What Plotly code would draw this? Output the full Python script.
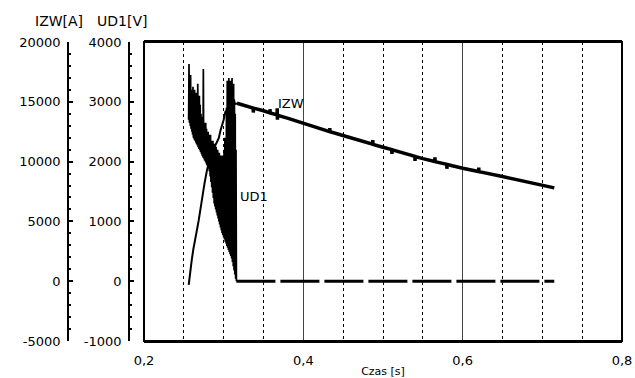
import plotly.graph_objects as go

# ---- data ----
x_tick_vals = [0.2, 0.4, 0.6, 0.8]
izw_tick_vals = [-5000, 0, 5000, 10000, 15000, 20000]
izw_tick_text = ["-5000", "0", "5000", "10000", "15000", "20000"]
ud1_tick_vals = [-1000, 0, 1000, 2000, 3000, 4000]
ud1_tick_text = ["-1000", "0", "1000", "2000", "3000", "4000"]

ud1_t = [0.2560, 0.2565, 0.2570, 0.2575, 0.2580, 0.2585, 0.2590, 0.2595, 0.2600, 0.2605,
         0.2610, 0.2615, 0.2620, 0.2625, 0.2630, 0.2635, 0.2640, 0.2645, 0.2650, 0.2655,
         0.2660, 0.2665, 0.2670, 0.2675, 0.2680, 0.2685, 0.2690, 0.2695, 0.2700, 0.2705,
         0.2710, 0.2715, 0.2720, 0.2725, 0.2730, 0.2735, 0.2740, 0.2745, 0.2750, 0.2755,
         0.2760, 0.2765, 0.2770, 0.2775, 0.2780, 0.2785, 0.2790, 0.2795, 0.2800, 0.2805,
         0.2810, 0.2815, 0.2820, 0.2825, 0.2830, 0.2835, 0.2840, 0.2845, 0.2850, 0.2855,
         0.2860, 0.2865, 0.2870, 0.2875, 0.2880, 0.2885, 0.2890, 0.2895, 0.2900, 0.2905,
         0.2910, 0.2915, 0.2920, 0.2925, 0.2930, 0.2935, 0.2940, 0.2945, 0.2950, 0.2955,
         0.2960, 0.2965, 0.2970, 0.2975, 0.2980, 0.2985, 0.2990, 0.2995, 0.3000, 0.3005,
         0.3010, 0.3015, 0.3020, 0.3025, 0.3030, 0.3035, 0.3040, 0.3045, 0.3050, 0.3055,
         0.3060, 0.3065, 0.3070, 0.3075, 0.3080, 0.3085, 0.3090, 0.3095, 0.3100, 0.3105,
         0.3110, 0.3115, 0.3120, 0.3125, 0.3130, 0.3135, 0.3140, 0.3145, 0.3150, 0.3155,
         0.3160]
ud1_v = [2700, 3630, 2650, 3150, 2600, 3450, 2550, 3200, 2500, 3150,
         2450, 3250, 2400, 3100, 2370, 3200, 2350, 3050, 2320, 3150,
         2290, 3000, 2270, 3300, 2240, 3000, 2210, 3100, 2190, 2950,
         2160, 2800, 2130, 2750, 2100, 2700, 2070, 3550, 2050, 2650,
         2020, 2600, 2000, 2650, 1970, 2550, 1940, 2500, 1910, 2500,
         1880, 2450, 1840, 2400, 1750, 2450, 1660, 2350, 1570, 2300,
         1480, 2350, 1390, 2250, 1300, 2300, 1250, 2200, 1200, 2250,
         1150, 2150, 1100, 2200, 1050, 2100, 1000, 2150, 950, 2050,
         900, 2100, 850, 2000, 800, 2100, 770, 2050, 730, 2200,
         700, 2400, 660, 2300, 630, 2900, 590, 3350, 560, 3000,
         520, 3400, 490, 3200, 450, 3350, 420, 3100, 380, 3400,
         320, 3200, 250, 3300, 180, 3000, 110, 2800, 40, 2200,
         0]

ud1_tail_t = [0.3160, 0.7150]
ud1_tail_v = [0, 0]

izw_rise_t = [0.2561, 0.2570, 0.2581, 0.2600, 0.2620, 0.2644, 0.2665, 0.2687, 0.2710, 0.2728,
              0.2760, 0.2791, 0.2830, 0.2870, 0.2900, 0.2938, 0.2960, 0.2980, 0.3000, 0.3021,
              0.3050, 0.3080, 0.3110, 0.3130, 0.3140, 0.3167]
izw_rise_a = [-300, 300, 900, 1800, 2700, 3450, 4300, 5100, 6200, 7050,
              8200, 9300, 10300, 11000, 11400, 11950, 12600, 13000, 13500, 14170,
              14300, 14500, 14700, 15200, 14800, 14875]

izw_decay_t = [0.3167, 0.3250, 0.3370, 0.3372, 0.3375, 0.3500, 0.3580, 0.3582, 0.3585, 0.3670,
               0.3672, 0.3675, 0.3678, 0.3800, 0.4000, 0.4200, 0.4330, 0.4332, 0.4335, 0.4476,
               0.4870, 0.4872, 0.4875, 0.5000, 0.5110, 0.5112, 0.5115, 0.5250, 0.5400, 0.5402,
               0.5405, 0.5500, 0.5650, 0.5652, 0.5655, 0.5800, 0.5802, 0.5805, 0.6000, 0.6200,
               0.6202, 0.6205, 0.6500, 0.6750, 0.7000, 0.7150]
izw_decay_a = [14875, 14720, 14480, 14100, 14470, 14250, 14080, 14380, 14070, 13900,
               14450, 13500, 13880, 13640, 13200, 12780, 12510, 12800, 12500, 12220,
               11450, 11800, 11440, 11200, 11000, 10650, 10990, 10730, 10440, 10050,
               10430, 10250, 10010, 10350, 10000, 9770, 9400, 9760, 9450, 9170,
               9500, 9160, 8750, 8400, 8050, 7800]

FONT = "DejaVu Sans"

fig = go.Figure()
fig.add_trace(go.Scatter(x=izw_rise_t, y=izw_rise_a, mode="lines", yaxis="y2",
                         line=dict(color="black", width=2), showlegend=False))
fig.add_trace(go.Scatter(x=izw_decay_t, y=izw_decay_a, mode="lines", yaxis="y2",
                         line=dict(color="black", width=3.5), showlegend=False))
fig.add_trace(go.Scatter(x=ud1_t, y=ud1_v, mode="lines", yaxis="y",
                         line=dict(color="black", width=1.7), showlegend=False))
fig.add_trace(go.Scatter(x=ud1_tail_t, y=ud1_tail_v, mode="lines", yaxis="y",
                         line=dict(color="black", width=3, dash="39px,5px"), showlegend=False))

W, H = 635, 378
ml, mr, mt, mb = 40, 13, 42, 37
pw = W - ml - mr

def px2paper(px):
    return (px - ml) / pw

yaxis_common = dict(
    ticks="inside", ticklen=4, tickwidth=1.5, tickcolor="black",
    showline=True, linecolor="black", linewidth=1.5,
    showgrid=False, zeroline=False, automargin=False,
    ticklabelstandoff=4, tickfont=dict(size=13),
)

fig.update_layout(
    width=W, height=H,
    margin=dict(l=ml, r=mr, t=mt, b=mb, pad=0, autoexpand=False),
    paper_bgcolor="white", plot_bgcolor="white",
    separators=",.",
    font=dict(family=FONT, size=13, color="black"),
    xaxis=dict(
        domain=[px2paper(144), 1], range=[0.2, 0.8], anchor="y",
        tickvals=x_tick_vals, tickformat=".1f",
        showgrid=True, gridcolor="#444", gridwidth=1,
        minor=dict(tickmode="linear", tick0=0.2, dtick=0.05, showgrid=True,
                   gridcolor="black", griddash="3px,3px", gridwidth=1, ticks=""),
        showline=True, linecolor="black", linewidth=2, mirror=True,
        ticks="", zeroline=False, ticklabelstandoff=6, automargin=False,
        tickfont=dict(size=13),
        title=dict(text="Czas [s]", font=dict(size=11), standoff=2),
    ),
    yaxis=dict(
        anchor="free", position=px2paper(129), range=[-1000, 4000],
        tickmode="array", tickvals=ud1_tick_vals, ticktext=ud1_tick_text,
        minor=dict(tickmode="linear", tick0=0, dtick=200, ticks="inside",
                   ticklen=2, tickcolor="black"),
        **yaxis_common,
    ),
    yaxis2=dict(
        anchor="free", position=px2paper(68), overlaying="y",
        range=[-5000, 20000],
        tickmode="array", tickvals=izw_tick_vals, ticktext=izw_tick_text,
        minor=dict(tickmode="linear", tick0=0, dtick=1000, ticks="inside",
                   ticklen=2, tickcolor="black"),
        **yaxis_common,
    ),
    shapes=[
        dict(type="rect", xref="x domain", yref="y domain", x0=0, x1=1, y0=0, y1=1,
             line=dict(color="black", width=2), fillcolor="rgba(0,0,0,0)", layer="above"),
    ],
    annotations=[
        dict(text="IZW[A]", xref="paper", yref="paper", x=px2paper(59), y=1 + 21 / 299,
             xanchor="center", yanchor="middle", showarrow=False, font=dict(size=14)),
        dict(text="UD1[V]", xref="paper", yref="paper", x=px2paper(122), y=1 + 21 / 299,
             xanchor="center", yanchor="middle", showarrow=False, font=dict(size=14)),
        dict(text="IZW", xref="x", yref="y2", x=0.3845, y=14900,
             xanchor="center", yanchor="middle", showarrow=False, font=dict(size=13)),
        dict(text="UD1", xref="x", yref="y", x=0.338, y=1413,
             xanchor="center", yanchor="middle", showarrow=False, font=dict(size=13)),
    ],
)

fig.write_html("out.html", config={"displayModeBar": False},
               post_script="document.body.style.margin='0';document.body.style.padding='0';")
